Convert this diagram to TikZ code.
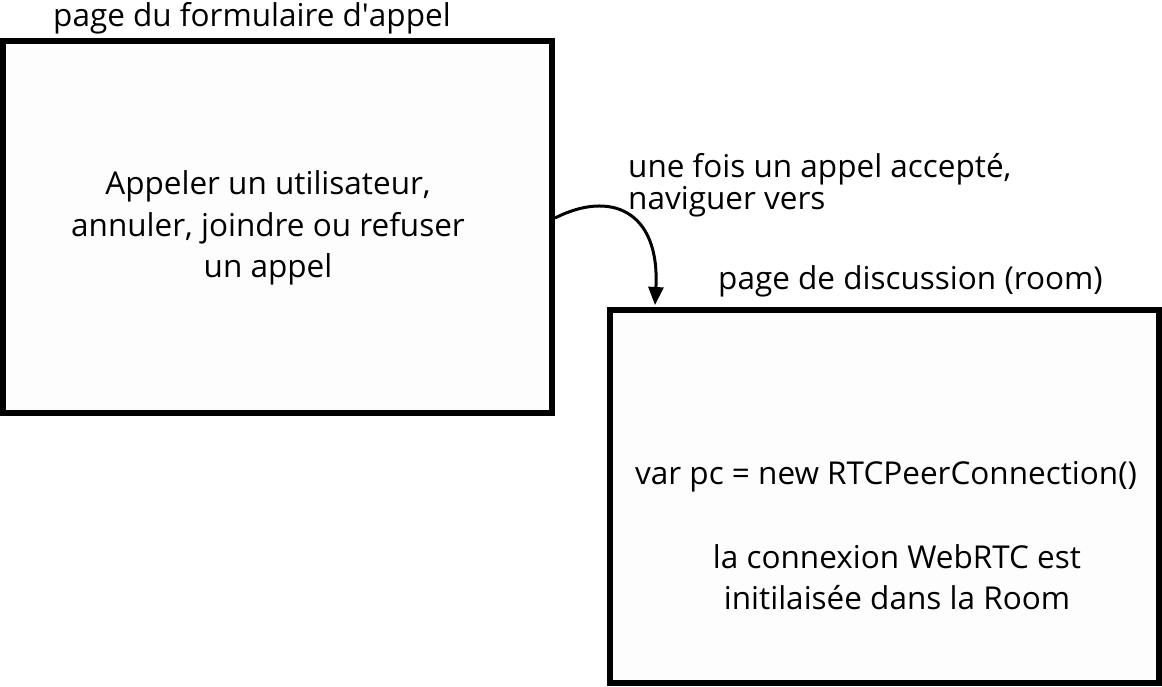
\documentclass[tikz,border=0pt]{standalone}
\usepackage{fontspec}
\setmainfont{Open Sans}
\usepackage{tikz}
\usetikzlibrary{arrows.meta,positioning}

\tikzset{
  pagebox/.style={draw=black, line width=6pt, fill=white!99.4!black, anchor=north west},
  boxtext/.style={align=center, font=\fontsize{31.5}{41.5}\selectfont},
  title/.style={anchor=base west, inner sep=0pt, font=\fontsize{31.5}{41}\selectfont},
}

\begin{document}
\begin{tikzpicture}[x=1pt, y=-1pt]
    \useasboundingbox (0,0) rectangle (1162,686);

    % Call form page
    \node[pagebox, minimum width=549pt, minimum height=372pt] (form) at (0,38) {};
    \node[title] (formtitle) at (53,26) {page du formulaire d\textquotesingle appel};
    \node[boxtext] (formtext) at (268,228) {Appeler un utilisateur,\\annuler, joindre ou refuser\\un appel};

    % Room page
    \node[pagebox, minimum width=549pt, minimum height=373pt] (room) at (607,307) {};
    \node[title] (roomtitle) at (718,289) {page de discussion (room)};
    \node[boxtext] (roomcode) at (886,477) {var pc = new RTCPeerConnection()};
    \node[boxtext] (roomtext) at (897,577) {la connexion WebRTC est\\initilaisée dans la Room};

    % Navigation
    \node[anchor=north west, inner sep=0pt, align=left, font=\fontsize{31.5}{32}\selectfont] (navlabel) at (628,153)
        {une fois un appel accepté,\\naviguer vers};
    \coordinate (navstart) at (555,218);
    \coordinate (navend) at (655,305);
    \draw[line width=3pt, -{Triangle[length=18pt, width=15pt]}]
        (navstart) .. controls (610,190) and (660,210) .. (navend);

\end{tikzpicture}
\end{document}
